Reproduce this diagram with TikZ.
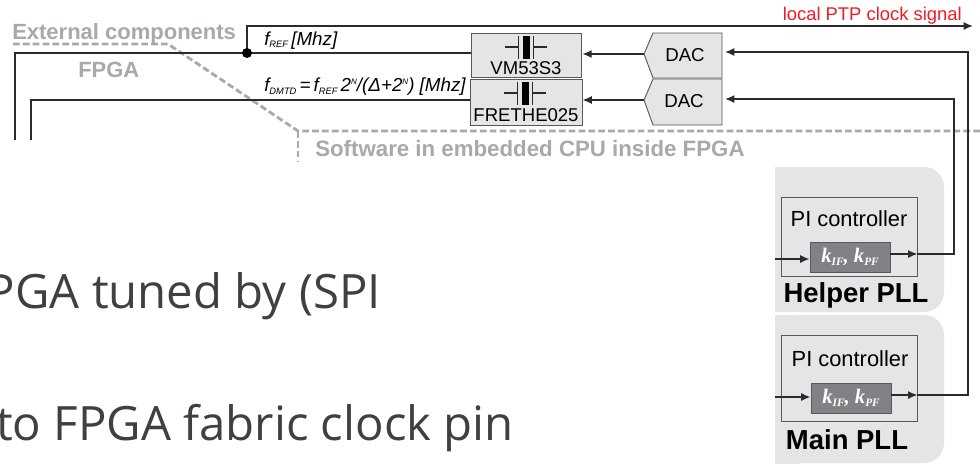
\documentclass[tikz,border=0pt]{standalone}
\usepackage{fontspec}
\setmainfont{Liberation Sans}
\newfontfamily\opensans{Open Sans}
\newfontfamily\serifit{Liberation Serif}
\usetikzlibrary{arrows.meta,calc}
\definecolor{gfill}{HTML}{E4E5E7}
\definecolor{gline}{HTML}{A7A9AC}
\definecolor{wire}{HTML}{2B2B2B}
\definecolor{boxln}{HTML}{58595B}
\definecolor{kfill}{HTML}{808285}
\definecolor{bigtxt}{HTML}{404040}
\definecolor{redt}{HTML}{ED1C24}
\newcommand{\kpair}{{\serifit\bfseries\itshape\fontsize{15.5}{16}\selectfont k{\fontsize{8.5}{9}\selectfont\raisebox{-2pt}{IF}}, k{\fontsize{8.5}{9}\selectfont\raisebox{-2pt}{PF}}}}
\tikzset{
 x=0.75pt,y=-0.75pt,
 wireline/.style={draw=wire,line width=1.2pt},
 arr/.style={wireline,-{Latex[length=7pt,width=6pt]}},
 dashgrey/.style={draw=gline,line width=2.1pt,dash pattern=on 5pt off 2.4pt},
 labelgrey/.style={text=gline,anchor=base west,inner sep=0pt},
 xtal/.style={draw=boxln,fill=gfill,line width=0.7pt,inner sep=0pt},
 dacbox/.style={draw=boxln,fill=gfill,line width=0.7pt},
 ctrl/.style={draw=boxln,line width=0.7pt,fill=gfill},
 kbox/.style={draw=boxln,fill=kfill,line width=0.7pt,text=white,inner sep=0pt},
 plat/.style={fill=gfill,rounded corners=15pt},
 txt/.style={inner sep=0pt,anchor=center},
 eq/.style={inner sep=0pt,anchor=base west,text=black},
 bigline/.style={inner sep=0pt,anchor=base east,text=bigtxt,font={\opensans\fontsize{35.5}{40}\selectfont}},
}
\begin{document}
\begin{tikzpicture}
\useasboundingbox (0,0) rectangle (980,464);
\fill[white] (0,0) rectangle (980,464);
\begin{scope}
\clip (0,0) rectangle (980,464);
% PLL backgrounds
\fill[gfill] (775,167) rectangle (800,312);
\fill[gfill] (775,315) rectangle (800,464);
\path[plat] (780,167) -- (944,167) -- (944,312) -- (780,312) -- cycle;
\path[plat] (780,315) -- (944,315) -- (944,463) -- (780,463) -- cycle;
% big text
\node[bigline] (bigA) at (381,308) {PGA tuned by (SPI};
\node[bigline] (bigB) at (514,440) {to FPGA fabric clock pin};
% dashed separators
\draw[dashgrey] (13,44) -- (168,44) -- (298,131) -- (980,131);
\draw[dashgrey] (298,131) -- (298,161);
% boxes
\node[xtal,minimum width=83pt,minimum height=33.5pt] (xa) at (526.5,55.5) {};
\node[xtal,minimum width=84pt,minimum height=34.5pt] (xb) at (526,102) {};
\node[txt,font=\fontsize{13.9}{16}\selectfont] (xal) at (526,68) {VM53S3};
\node[txt,font=\fontsize{13.9}{16}\selectfont] (xbl) at (526,115) {FRETHE025};
% crystal symbols
\foreach \yy/\xx in {35/526,81/525}{
 \draw[wire,line width=0.8pt] (\xx-21,\yy+12) -- (\xx-7.5,\yy+12) (\xx-7.5,\yy+1) -- (\xx-7.5,\yy+24)
   (\xx+7.5,\yy+1) -- (\xx+7.5,\yy+24) (\xx+7.5,\yy+12) -- (\xx+21,\yy+12);
 \fill[black] (\xx-3.5,\yy+1) rectangle (\xx+3.5,\yy+24);
}
% DACs
\path[dacbox] (653,33) -- (722,33) -- (722,78) -- (653,78) -- (644,54) -- cycle;
\path[dacbox] (653,79) -- (722,79) -- (722,125) -- (653,125) -- (644,100) -- cycle;
\coordinate (da) at (644,54);
\coordinate (db) at (644,100);
\node[txt,font=\fontsize{14}{16}\selectfont] (dal) at (685,55) {DAC};
\node[txt,font=\fontsize{14}{16}\selectfont] (dbl) at (684,101) {DAC};
% PI controllers
\node[ctrl,minimum width=102pt,minimum height=59.25pt,inner sep=0pt] (pa) at (849,236.5) {};
\node[ctrl,minimum width=102pt,minimum height=64.5pt,inner sep=0pt] (pb) at (849,378) {};
\node[txt,font=\fontsize{16.4}{18}\selectfont] (pal) at (849,219) {PI controller};
\node[txt,font=\fontsize{16.4}{18}\selectfont] (pbl) at (850,359) {PI controller};
\node[kbox,minimum width=60pt,minimum height=22.5pt] (ka) at (850,257) {\kpair};
\node[kbox,minimum width=60pt,minimum height=22.5pt] (kb) at (851,398) {\kpair};
\node[txt,font=\bfseries\fontsize{20.6}{22}\selectfont] (hl) at (856,295) {Helper PLL};
\node[txt,font=\bfseries\fontsize{20.6}{22}\selectfont] (ml) at (847,440) {Main PLL};
% wires
\coordinate (sa) at (15,140);
\coordinate (sb) at (31,140);
\coordinate (ja) at (247,53);
\coordinate (top) at (247,26);
\coordinate (out) at (973,26);
\coordinate (ia) at (775,259);
\coordinate (ib) at (775,397);
\draw[wireline] (sa) |- (xa.west |- ja);
\draw[wireline] (sb) |- (xb.west |- db);
\draw[arr] (ja) -- (top) -- (out);
\fill[black] (ja) circle[radius=3.75pt];
\draw[arr] (da) -- (xa.east |- da);
\draw[arr] (db) -- (xb.east |- db);
\draw[arr] (ia) -- (ka.west |- ia);
\draw[arr] (ib) -- (kb.west |- ib);
\coordinate (ea) at (889,254);
\coordinate (eb) at (891,395);
\draw[arr] (ka.east |- ea) -- (pa.east |- ea);
\draw[arr] (kb.east |- eb) -- (pb.east |- eb);
\coordinate (ca) at (954,254);
\coordinate (cb) at (968,395);
\coordinate (ua) at (954,99);
\coordinate (ub) at (968,52);
\draw[arr] (pa.east |- ca) -- (ca) -- (ua) -- (725,99);
\draw[arr] (pb.east |- cb) -- (cb) -- (ub) -- (725,52);
% labels
\node[labelgrey,font=\bfseries\fontsize{16.5}{18}\selectfont] (ext) at (12,39.5) {External components};
\node[labelgrey,font=\bfseries\fontsize{16.5}{18}\selectfont] (fp) at (78,77) {FPGA};
\node[labelgrey,font=\bfseries\fontsize{16.7}{18}\selectfont] (sw) at (315,156.5) {Software in embedded CPU inside FPGA};
\node[inner sep=0pt,anchor=base east,text=redt,font=\fontsize{13.8}{15}\selectfont] (ptp) at (962,21) {local PTP clock signal};
\node[eq,font=\itshape\fontsize{14.1}{15}\selectfont] (fr) at (264,45) {f{\fontsize{7}{8}\selectfont\raisebox{-2pt}{REF}}\,[Mhz]};
\node[eq,font=\itshape\fontsize{14.1}{15}\selectfont] (fd) at (264,91.5) {f{\fontsize{7}{8}\selectfont\raisebox{-2pt}{DMTD}}\,=\,f{\fontsize{7}{8}\selectfont\raisebox{-2pt}{REF}}\,2{\fontsize{6}{7}\selectfont\raisebox{5pt}{N}}/(Δ+2{\fontsize{6}{7}\selectfont\raisebox{5pt}{N}}) [Mhz]};
\end{scope}
\end{tikzpicture}
\end{document}
